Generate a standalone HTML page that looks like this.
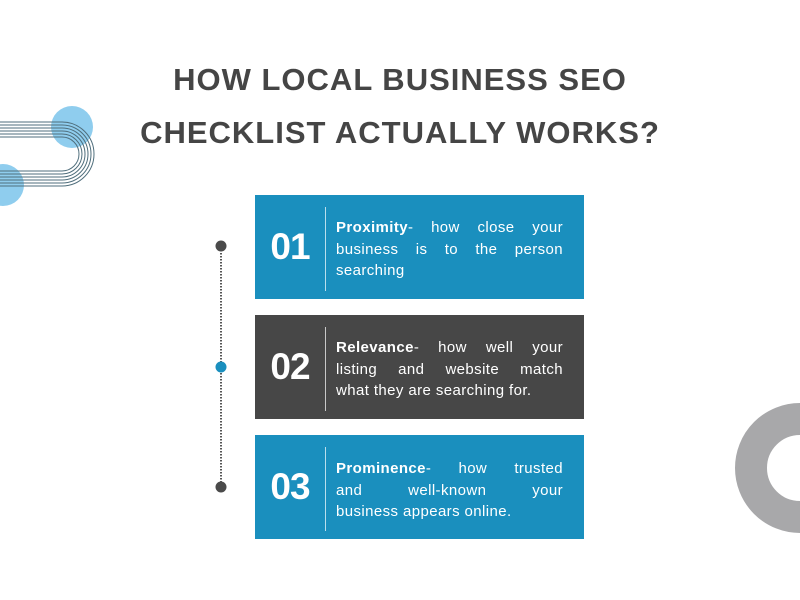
<!DOCTYPE html>
<html><head><style>
body{margin:0;width:800px;height:600px;background:#fff;position:relative;overflow:hidden;font-family:"Liberation Sans",sans-serif}
.t{position:absolute;left:0;width:800px;text-align:center;font-weight:bold;font-size:31px;color:#454545;letter-spacing:1px}
.box{position:absolute;left:255px;width:329px;height:104px}
.num{position:absolute;left:0;width:70px;top:0;height:104px;line-height:104px;text-align:center;color:#fff;font-weight:bold;font-size:37px;letter-spacing:-1px}
.div{position:absolute;left:70px;top:12px;width:1px;height:84px;background:rgba(255,255,255,.7)}
.txt{position:absolute;left:81px;width:227px;color:#fff;font-size:15px;letter-spacing:0.4px;line-height:21.5px}
.txt div{text-align:justify;text-align-last:justify;white-space:nowrap}
.txt div.l{text-align-last:left}
</style></head><body>
<div class="t" style="top:62px">HOW LOCAL BUSINESS SEO</div>
<div class="t" style="top:115px">CHECKLIST ACTUALLY WORKS?</div>
<svg style="position:absolute;left:0;top:0" width="800" height="600">
<circle cx="72" cy="127" r="21" fill="#8fcdee"/>
<circle cx="3" cy="185" r="21" fill="#8fcdee"/>
<g fill="none" stroke="#4f6e7c" stroke-width="1">
<path d="M0 122 H62 A32 32 0 0 1 62 186 H0"/>
<path d="M0 125 H62 A29 29 0 0 1 62 183 H0"/>
<path d="M0 128 H62 A26 26 0 0 1 62 180 H0"/>
<path d="M0 131 H62 A23 23 0 0 1 62 177 H0"/>
<path d="M0 134 H62 A20 20 0 0 1 62 174 H0"/>
<path d="M0 137 H62 A17 17 0 0 1 62 171 H0"/>
</g>
<circle cx="800" cy="468" r="49" fill="none" stroke="#a8a8aa" stroke-width="32"/>
<line x1="221" y1="250" x2="221" y2="485" stroke="#555" stroke-width="2" stroke-dasharray="1.5 1.5"/>
<circle cx="221" cy="246" r="5.5" fill="#4a4a4a"/>
<circle cx="221" cy="367" r="5.5" fill="#1a8fbe"/>
<circle cx="221" cy="487" r="5.5" fill="#4a4a4a"/>
</svg>
<div class="box" style="top:195px;background:#1a8fbe"><div class="num">01</div><div class="div"></div>
<div class="txt" style="top:22px"><div><b>Proximity</b>- how close your</div><div>business is to the person</div><div class="l">searching</div></div></div>
<div class="box" style="top:315px;background:#474747"><div class="num">02</div><div class="div"></div>
<div class="txt" style="top:22px"><div><b>Relevance</b>- how well your</div><div>listing and website match</div><div class="l">what they are searching for.</div></div></div>
<div class="box" style="top:435px;background:#1a8fbe"><div class="num">03</div><div class="div"></div>
<div class="txt" style="top:23px"><div><b>Prominence</b>- how trusted</div><div>and well-known your</div><div class="l">business appears online.</div></div></div>
</body></html>
